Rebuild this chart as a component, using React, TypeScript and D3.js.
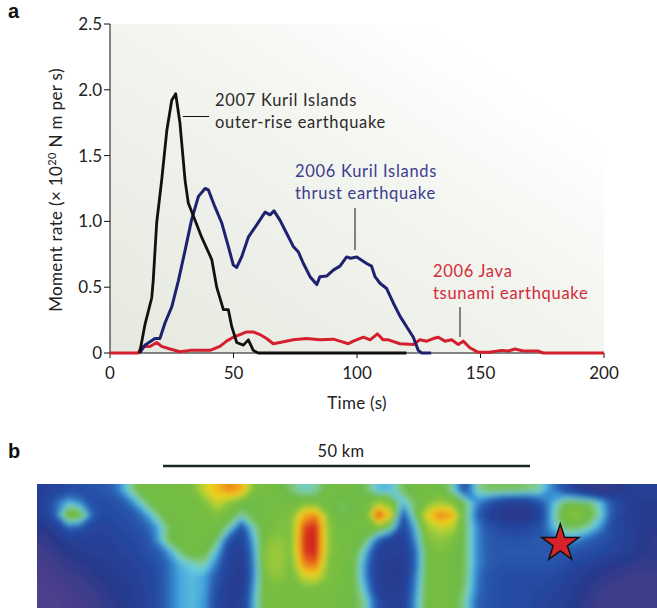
import React from "react";
import * as d3 from "d3";

// ---------- Panel a data ----------
const kuril2007T = [12, 14.2, 16.9, 17.5, 18.9, 20.9, 23, 25, 26.6, 28.3, 30.4, 31.7, 34.4, 37.1, 41.2, 43.2, 45.9, 47.9, 49.3, 51.3, 54, 56, 58, 60, 120];
const kuril2007V = [0, 0.22, 0.42, 0.55, 0.99, 1.31, 1.69, 1.92, 1.97, 1.75, 1.31, 1.14, 1.01, 0.88, 0.71, 0.5, 0.33, 0.33, 0.2, 0.08, 0.06, 0.1, 0.02, 0, 0];

const kuril2006T = [12, 14.2, 18.2, 20.2, 22.3, 25, 27.7, 30.4, 33, 35.8, 38.5, 39.8, 42.5, 45.2, 47.9, 49.9, 51.3, 53.3, 56, 60, 62.8, 64.8, 66.4, 68.8, 71.5, 74.2, 76.2, 78.3, 81, 83.7, 85, 87.7, 90.4, 93.1, 95.8, 97.4, 99.9, 103.9, 105.9, 107.3, 109.3, 112, 114.7, 117.4, 120.1, 122.8, 124.8, 126.2, 130];
const kuril2006V = [0, 0.06, 0.11, 0.11, 0.23, 0.35, 0.55, 0.78, 1.01, 1.19, 1.25, 1.24, 1.11, 0.99, 0.81, 0.67, 0.65, 0.73, 0.88, 0.99, 1.07, 1.05, 1.08, 1.01, 0.91, 0.81, 0.77, 0.68, 0.58, 0.52, 0.58, 0.585, 0.63, 0.66, 0.73, 0.72, 0.73, 0.68, 0.66, 0.58, 0.53, 0.49, 0.38, 0.28, 0.2, 0.12, 0.02, 0, 0];

const java2006T = [0, 11.5, 12.8, 16.2, 18.9, 20.9, 24.3, 28.3, 32.4, 36.4, 40.5, 44.5, 47.2, 49.9, 52.6, 55.3, 58, 60.7, 63.4, 66.1, 68.8, 74.2, 79.6, 85, 90.4, 93.1, 96.5, 98.5, 102.6, 105.3, 108.3, 110.6, 112.7, 117.4, 122.8, 125.5, 128.2, 130.9, 132.9, 135.6, 138.3, 141, 143, 145.7, 149.1, 153.6, 158.6, 161.3, 164, 167.3, 173.4, 175.4, 200];
const java2006V = [0, 0, 0.05, 0.05, 0.08, 0.05, 0.03, 0.01, 0.02, 0.02, 0.02, 0.05, 0.09, 0.12, 0.14, 0.16, 0.16, 0.14, 0.11, 0.07, 0.08, 0.1, 0.11, 0.1, 0.105, 0.09, 0.07, 0.09, 0.12, 0.1, 0.145, 0.1, 0.1, 0.07, 0.065, 0.1, 0.09, 0.11, 0.12, 0.09, 0.1, 0.065, 0.09, 0.04, 0.005, 0.005, 0.02, 0.015, 0.03, 0.015, 0.015, 0, 0];

const xTicks = [0, 50, 100, 150, 200];
const yTicks = [0, 0.5, 1.0, 1.5, 2.0, 2.5];
const yTickLabels = ["0", "0.5", "1.0", "1.5", "2.0", "2.5"];

// ---------- Panel b data (heat map grid, 50 x 10, values 0..10) ----------
const heatRow0 = [2, 2.2, 2.8, 2.8, 3, 3.2, 3.8, 5, 6, 6, 6, 6, 6.3, 7.6, 8.3, 9, 8.5, 6.5, 6, 6, 5.3, 4.8, 5, 6, 6, 6, 5.5, 4.5, 4.5, 5.5, 6, 6, 6, 5, 3, 5, 5.5, 5.5, 5.5, 5.3, 5, 4, 3, 2, 1, 0.8, 1, 1.5, 2, 2];
const heatRow1 = [2, 3.5, 4.5, 4, 2.8, 2.8, 3, 3.8, 5, 6, 6, 6, 6, 6.5, 7.6, 6.8, 6, 5.8, 6, 6, 6, 6.3, 6.3, 6, 5.5, 5.8, 6, 7, 6.5, 4.5, 5.5, 6.5, 7, 6.5, 5.5, 4, 3, 2.2, 1.8, 2, 3, 4.3, 5.5, 5.8, 5.5, 4.5, 3, 2, 1.5, 1.5];
const heatRow2 = [1.8, 3.5, 6.5, 6, 3.5, 2.5, 2.8, 3, 3.8, 5, 6, 6, 6, 6.3, 6.5, 6, 5, 5.8, 6, 6.3, 6.5, 8.5, 9, 6.5, 5.5, 6, 6, 10, 8, 3, 5.5, 8, 9.2, 8.6, 5.5, 3.5, 2, 1.2, 0.8, 1, 2, 4.5, 6.3, 6.8, 6, 4.8, 3, 2, 1.5, 1.5];
const heatRow3 = [1.2, 2, 3.5, 3.2, 2.3, 2.2, 2.5, 2.8, 3.2, 4, 5.3, 6, 6, 6, 6, 5, 3, 5, 6, 6.5, 6.5, 9.6, 10, 6.8, 6, 6, 6, 6.5, 5.5, 2.5, 4.5, 7, 7.5, 7.3, 5.5, 4, 3, 2.5, 2.3, 2.5, 3, 4.3, 5.5, 5.5, 5, 4, 2.5, 2, 1.5, 1.2];
const heatRow4 = [0.8, 1.2, 1.8, 2, 2, 2, 2.2, 2.5, 2.8, 3.8, 5.5, 6, 6, 6, 5.5, 3, 2.2, 4.5, 6.5, 6.8, 6.5, 9.8, 10, 6.8, 6, 6, 5.5, 3.5, 2.2, 2, 4, 6.5, 6.8, 6.5, 5.5, 4, 3.2, 3, 3, 3, 3.2, 3.5, 4, 4, 3.5, 3, 2.5, 2, 1.5, 1];
const heatRow5 = [0.5, 0.8, 1.2, 1.5, 1.8, 1.8, 2, 2.3, 2.7, 3.2, 4, 5.3, 6, 5.8, 4.5, 2.2, 1.8, 4.2, 6.8, 7, 6.5, 9.7, 10, 6.8, 6.2, 6, 4.5, 2, 1.8, 1.8, 3.5, 6, 6.5, 6, 5.5, 4, 3.3, 3.2, 3.2, 3.2, 3.2, 3.2, 3.2, 3, 2.8, 2.5, 2.2, 1.8, 1.3, 1];
const heatRow6 = [0.3, 0.5, 0.8, 1, 1.3, 1.5, 1.8, 2, 2.3, 2.8, 3.6, 4.4, 4.8, 5, 3.8, 2, 1.6, 4, 6.8, 7, 6.3, 9, 9.3, 6.5, 6.2, 5.8, 4, 1.8, 1.5, 1.5, 3.5, 6, 6.3, 6, 5.5, 4, 3.3, 3, 3, 3, 3, 3, 2.8, 2.3, 2, 1.5, 1.2, 1, 0.8, 0.8];
const heatRow7 = [0.2, 0.3, 0.5, 0.7, 1, 1.2, 1.5, 1.8, 2.2, 2.6, 3.6, 4.3, 4.5, 4.3, 3.2, 1.8, 1.5, 4, 6.5, 6.8, 6.3, 7.5, 7.7, 6.5, 6.2, 5.8, 4, 1.8, 1.5, 1.5, 3.8, 6, 6.2, 6, 5.5, 3.8, 3, 2.8, 2.7, 2.7, 2.7, 2.6, 2.3, 1.8, 1.3, 1, 0.8, 0.6, 0.5, 0.6];
const heatRow8 = [0, 0.2, 0.3, 0.5, 0.7, 1, 1.3, 1.6, 2, 2.5, 3.6, 4.3, 4.5, 4.3, 2.8, 1.6, 1.6, 4.3, 6.3, 6.3, 6.2, 6.3, 6.3, 6.2, 6, 5.8, 4.5, 2, 1.5, 1.8, 4, 6, 6.2, 6, 5.3, 3.8, 3, 2.8, 2.8, 2.6, 2.5, 2.3, 2, 1.5, 1, 0.7, 0.5, 0.5, 0.5, 0.6];
const heatRow9 = [0, 0, 0.2, 0.3, 0.5, 0.8, 1.1, 1.5, 2, 2.5, 3.6, 4.3, 4.5, 4.2, 2.6, 1.6, 1.8, 4.5, 6.2, 6.2, 6.2, 6.2, 6.2, 6.2, 6, 5.8, 5, 3, 1.8, 2, 4.2, 6, 6.2, 6, 5, 3.5, 3, 2.8, 2.8, 2.6, 2.3, 2, 1.7, 1.2, 0.8, 0.5, 0.5, 0.5, 0.5, 0.6];
const heatRows = [heatRow0, heatRow1, heatRow2, heatRow3, heatRow4, heatRow5, heatRow6, heatRow7, heatRow8, heatRow9];

const heatStops = [0, 1.2, 2.5, 3.5, 4.2, 4.7, 5.2, 5.7, 6.5, 7.3, 8, 9, 10];
const heatColors = ["#4f3f8c", "#28398a", "#2447a0", "#2c5fb2", "#3c9ad8", "#6ccfe0", "#84c87c", "#6cba47", "#7cc040", "#b4d035", "#f2d21e", "#ee8a1d", "#d21e1e"];

const epicenter = { col: 42.2, row: 4.8 };

const FONT = "Lato, 'Open Sans', sans-serif";

function App() {
  // panel a geometry
  const x = d3.scaleLinear().domain([0, 200]).range([110, 604]);
  const y = d3.scaleLinear().domain([0, 2.5]).range([353, 24]);

  const toPts = (ts: number[], vs: number[]) =>
    ts.slice(0, Math.min(ts.length, vs.length)).map((t, i) => [t, vs[i]] as [number, number]);
  const line = d3
    .line<[number, number]>()
    .x((d) => x(d[0]))
    .y((d) => y(d[1]))
    .curve(d3.curveLinear);

  // panel b geometry
  const nCols = heatRows[0].length;
  const nRows = heatRows.length;
  const hx0 = 37,
    hy0 = 484,
    hW = 620,
    hH = 124;
  const cell = hW / nCols;
  // replicate the border cells (rendering margin only) so the blur does not fade at the clip edges
  const pad = 2;
  const padRows: number[][] = [];
  for (let r = -pad; r < nRows + pad; r++) {
    const src = heatRows[Math.max(0, Math.min(nRows - 1, r))];
    const row: number[] = [];
    for (let c = -pad; c < nCols + pad; c++) row.push(src[Math.max(0, Math.min(nCols - 1, c))]);
    padRows.push(row);
  }
  const values = padRows.flat();
  const thresholds = d3.range(-0.25, 10.01, 0.12);
  const contours = d3
    .contours()
    .size([nCols + 2 * pad, nRows + 2 * pad])
    .thresholds(thresholds)(values);
  const color = d3.scaleLinear<string>().domain(heatStops).range(heatColors).clamp(true);
  const geo = d3.geoPath(d3.geoIdentity().scale(cell) as any);

  const starPath = d3.symbol().type(d3.symbolStar).size(430)();
  const labelProps = { fontSize: 16.5, letterSpacing: 0.7 };

  return (
    <svg
      width={657}
      height={608}
      style={{ position: "absolute", left: 0, top: 0, background: "#fff" }}
      fontFamily={FONT}
    >
      <defs>
        <linearGradient id="bg" x1="0" y1="1" x2="1" y2="0">
          <stop offset="0" stopColor="#e5e9df" />
          <stop offset="0.5" stopColor="#f2f4ee" />
          <stop offset="0.82" stopColor="#ffffff" />
        </linearGradient>
        <clipPath id="heatClip">
          <rect x={hx0} y={hy0} width={hW} height={hH} />
        </clipPath>
        <filter id="soft" x="-5%" y="-20%" width="110%" height="140%">
          <feGaussianBlur stdDeviation="2.4" />
        </filter>
      </defs>

      {/* ---------- panel a ---------- */}
      <text x={8} y={18} fontSize={20} fontWeight="bold" fontFamily="'Liberation Sans', Arial, sans-serif" fill="#111">
        a
      </text>
      <rect x={110} y={24} width={494} height={329} fill="url(#bg)" />

      {/* y axis */}
      <line x1={110} x2={110} y1={24} y2={353} stroke="#111" strokeWidth={1} />
      {yTicks.map((t, i) => (
        <g key={"yt" + i}>
          <line x1={104} x2={110} y1={y(t)} y2={y(t)} stroke="#111" strokeWidth={1} />
          <text x={102} y={y(t)} dy="0.35em" textAnchor="end" fontSize={17} fill="#222">
            {yTickLabels[i]}
          </text>
        </g>
      ))}
      {/* x axis */}
      <line x1={110} x2={604} y1={353} y2={353} stroke="#111" strokeWidth={1} />
      {xTicks.map((t) => (
        <g key={"xt" + t}>
          <line x1={x(t)} x2={x(t)} y1={353} y2={358} stroke="#111" strokeWidth={1} />
          <text x={x(t)} y={379} textAnchor="middle" fontSize={17} fill="#222">
            {t}
          </text>
        </g>
      ))}
      <text x={357} y={409} textAnchor="middle" fontSize={17} fill="#222" letterSpacing={0.3}>
        Time (s)
      </text>
      <text transform="translate(62,190) rotate(-90)" textAnchor="middle" fontSize={17} fill="#222" letterSpacing={0.35}>
        Moment rate (× 10
        <tspan dy={-6} fontSize={11}>
          20
        </tspan>
        <tspan dy={6}> N m per s)</tspan>
      </text>

      {/* series */}
      <path d={line(toPts(java2006T, java2006V)) || ""} fill="none" stroke="#d4202e" strokeWidth={3} strokeLinejoin="round" />
      <path d={line(toPts(kuril2006T, kuril2006V)) || ""} fill="none" stroke="#1e2170" strokeWidth={3} strokeLinejoin="round" />
      <path d={line(toPts(kuril2007T, kuril2007V)) || ""} fill="none" stroke="#111" strokeWidth={2.8} strokeLinejoin="round" />

      {/* annotations */}
      <line x1={183} x2={209} y1={116.5} y2={116.5} stroke="#111" strokeWidth={1} />
      <text x={215} y={106} {...labelProps} fill="#2a2a2a">
        2007 Kuril Islands
      </text>
      <text x={215} y={128} {...labelProps} fill="#2a2a2a">
        outer-rise earthquake
      </text>

      <line x1={355} x2={355} y1={208} y2={250} stroke="#111" strokeWidth={1} />
      <text x={295} y={177} {...labelProps} fill="#3c3c8e">
        2006 Kuril Islands
      </text>
      <text x={295} y={199} {...labelProps} fill="#3c3c8e">
        thrust earthquake
      </text>

      <line x1={460} x2={460} y1={307} y2={337} stroke="#111" strokeWidth={1} />
      <text x={433} y={277} {...labelProps} fill="#d42a3a">
        2006 Java
      </text>
      <text x={433} y={299} {...labelProps} fill="#d42a3a">
        tsunami earthquake
      </text>

      {/* ---------- panel b ---------- */}
      <text x={8} y={458} fontSize={20} fontWeight="bold" fontFamily="'Liberation Sans', Arial, sans-serif" fill="#111">
        b
      </text>
      <text x={341} y={457} textAnchor="middle" fontSize={16.5} fill="#222" letterSpacing={0.3}>
        50 km
      </text>
      <line x1={163} x2={530} y1={466} y2={466} stroke="#1a2626" strokeWidth={2.5} />

      <g clipPath="url(#heatClip)">
        <rect x={hx0} y={hy0} width={hW} height={hH} fill={color(2)} />
        <g transform={`translate(${hx0 - pad * cell},${hy0 - pad * cell})`} filter="url(#soft)">
          {contours.map((c, i) => (
            <path key={"c" + i} d={geo(c as any) || ""} fill={color(c.value + 0.06)} stroke="none" />
          ))}
        </g>
      </g>
      <path
        d={starPath || ""}
        transform={`translate(${hx0 + epicenter.col * cell},${hy0 + epicenter.row * cell})`}
        fill="#d7222a"
        stroke="#111"
        strokeWidth={1.5}
        strokeLinejoin="miter"
      />
    </svg>
  );
}

export default App;
